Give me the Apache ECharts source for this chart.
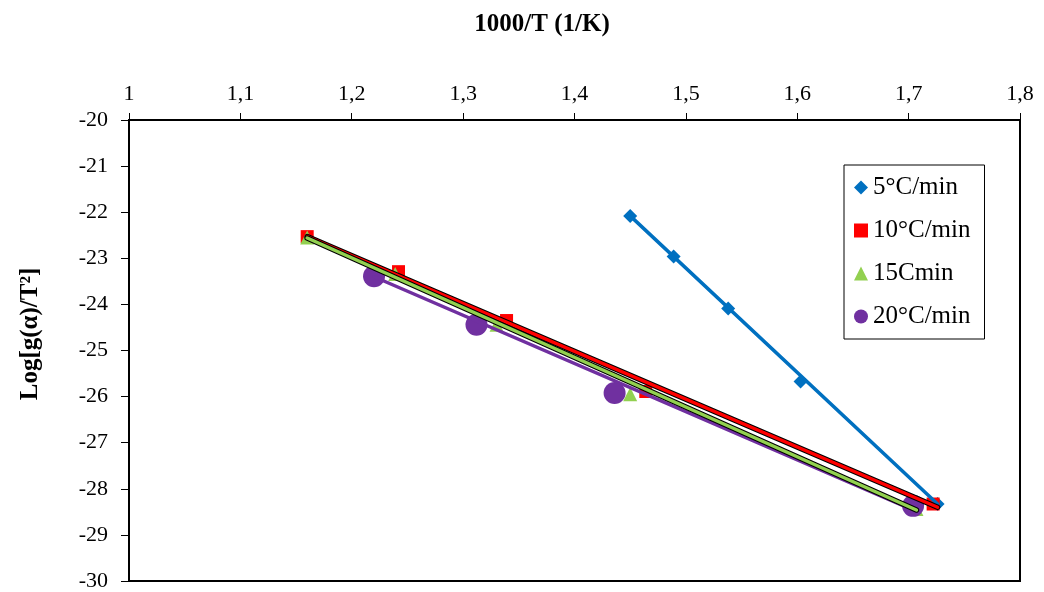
<!DOCTYPE html>
<html>
<head>
<meta charset="utf-8">
<script src="https://cdn.jsdelivr.net/npm/echarts@6/dist/echarts.min.js"></script>
<style>
  html, body { margin: 0; padding: 0; background: #fff; }
  #chart { width: 1044px; height: 592px; }
</style>
</head>
<body>
<div id="chart"></div>
<script>
// Heating-rate series: 1000/T (1/K) against Log[g(α)/T²]
const seriesNames = ['5°C/min', '10°C/min', '15Cmin', '20°C/min'];

const x5  = [1.450, 1.489, 1.538, 1.603, 1.726];
const y5  = [-22.08, -22.96, -24.09, -25.67, -28.33];

const x10 = [1.160, 1.242, 1.339, 1.464, 1.722];
const y10 = [-22.53, -23.29, -24.35, -25.89, -28.33];

const x15 = [1.160, 1.239, 1.330, 1.450, 1.707];
const y15 = [-22.55, -23.34, -24.44, -25.95, -28.44];

const x20 = [1.220, 1.312, 1.436, 1.704];
const y20 = [-23.39, -24.44, -25.92, -28.37];

// Linear trend lines, start and end of each fit
const fit5  = [[1.450, -22.08], [1.726, -28.33]];
const fit10 = [[1.160, -22.53], [1.726, -28.40]];
const fit15 = [[1.160, -22.56], [1.707, -28.46]];
const fit20 = [[1.220, -23.40], [1.708, -28.50]];

// Axis settings
const xMin = 1, xMax = 1.8, xStep = 0.1;
const yMin = -30, yMax = -20, yStep = 1;

const colors = ['#0070C0', '#FF0000', '#92D050', '#7030A0'];
const serif = 'Liberation Serif, Times New Roman, serif';

const pairs = (xs, ys) => xs.map((x, i) => [x, ys[i]]);

const scatter = (name, xs, ys, symbol, size, color) => ({
  name, type: 'scatter', data: pairs(xs, ys),
  symbol, symbolSize: size,
  itemStyle: { color, opacity: 1 },
  z: 2
});

const fitLine = (name, pts, color, width, z) => ({
  name, type: 'line', data: pts,
  symbol: 'none', silent: true,
  lineStyle: { color, width, cap: 'round' },
  z
});

const chart = echarts.init(document.getElementById('chart'), null, { renderer: 'canvas' });

chart.setOption({
  animation: false,
  backgroundColor: '#fff',
  grid: {
    left: 129, right: 24, top: 120, bottom: 10,
    show: true, borderColor: '#000', borderWidth: 2, backgroundColor: 'transparent'
  },
  xAxis: {
    type: 'value', position: 'top',
    min: xMin, max: xMax, interval: xStep,
    axisLine: { show: true, onZero: false, lineStyle: { color: '#000', width: 2 } },
    axisTick: { show: true, inside: false, length: 7, lineStyle: { color: '#000', width: 1 } },
    axisLabel: {
      margin: 15, color: '#000', fontFamily: serif, fontSize: 22,
      formatter: v => String(+v.toFixed(1)).replace('.', ',')
    },
    splitLine: { show: false }
  },
  yAxis: {
    type: 'value',
    min: yMin, max: yMax, interval: yStep,
    axisLine: { show: true, onZero: false, lineStyle: { color: '#000', width: 2 } },
    axisTick: { show: true, inside: false, length: 8, lineStyle: { color: '#000', width: 1 } },
    axisLabel: { margin: 21, color: '#000', fontFamily: serif, fontSize: 22 },
    splitLine: { show: false }
  },
  legend: {
    orient: 'vertical', left: 844, top: 165,
    padding: [10, 14, 10, 10], itemGap: 18,
    itemWidth: 14, itemHeight: 14,
    borderColor: '#000', borderWidth: 1, backgroundColor: '#fff',
    textStyle: { fontFamily: serif, fontSize: 25, color: '#000' },
    data: [
      { name: seriesNames[0], icon: 'diamond' },
      { name: seriesNames[1], icon: 'rect' },
      { name: seriesNames[2], icon: 'triangle' },
      { name: seriesNames[3], icon: 'circle' }
    ]
  },
  graphic: [
    {
      type: 'text', x: 542, y: 25,
      style: {
        text: '1000/T (1/K)', fill: '#000',
        font: 'bold 25px ' + serif,
        textAlign: 'center', textVerticalAlign: 'middle'
      }
    },
    {
      type: 'text', x: 31, y: 334, rotation: Math.PI / 2,
      style: {
        text: 'Log[g(α)/T²]', fill: '#000',
        font: 'bold 25px ' + serif,
        textAlign: 'center', textVerticalAlign: 'middle'
      }
    }
  ],
  series: [
    scatter(seriesNames[0], x5, y5, 'diamond', 14, colors[0]),
    scatter(seriesNames[1], x10, y10, 'rect', 13, colors[1]),
    scatter(seriesNames[2], x15, y15, 'triangle', 14, colors[2]),
    scatter(seriesNames[3], x20, y20, 'circle', 22, colors[3]),

    fitLine('fit 5', fit5, colors[0], 3.5, 3),
    fitLine('fit 20', fit20, colors[3], 3.5, 3),
    fitLine('fit 10 edge', fit10, '#000', 5.5, 3),
    fitLine('fit 10', fit10, colors[1], 3.5, 3),
    fitLine('fit 15 edge', fit15, '#000', 5.5, 3),
    fitLine('fit 15', fit15, colors[2], 3.5, 3)
  ]
});
</script>
</body>
</html>
